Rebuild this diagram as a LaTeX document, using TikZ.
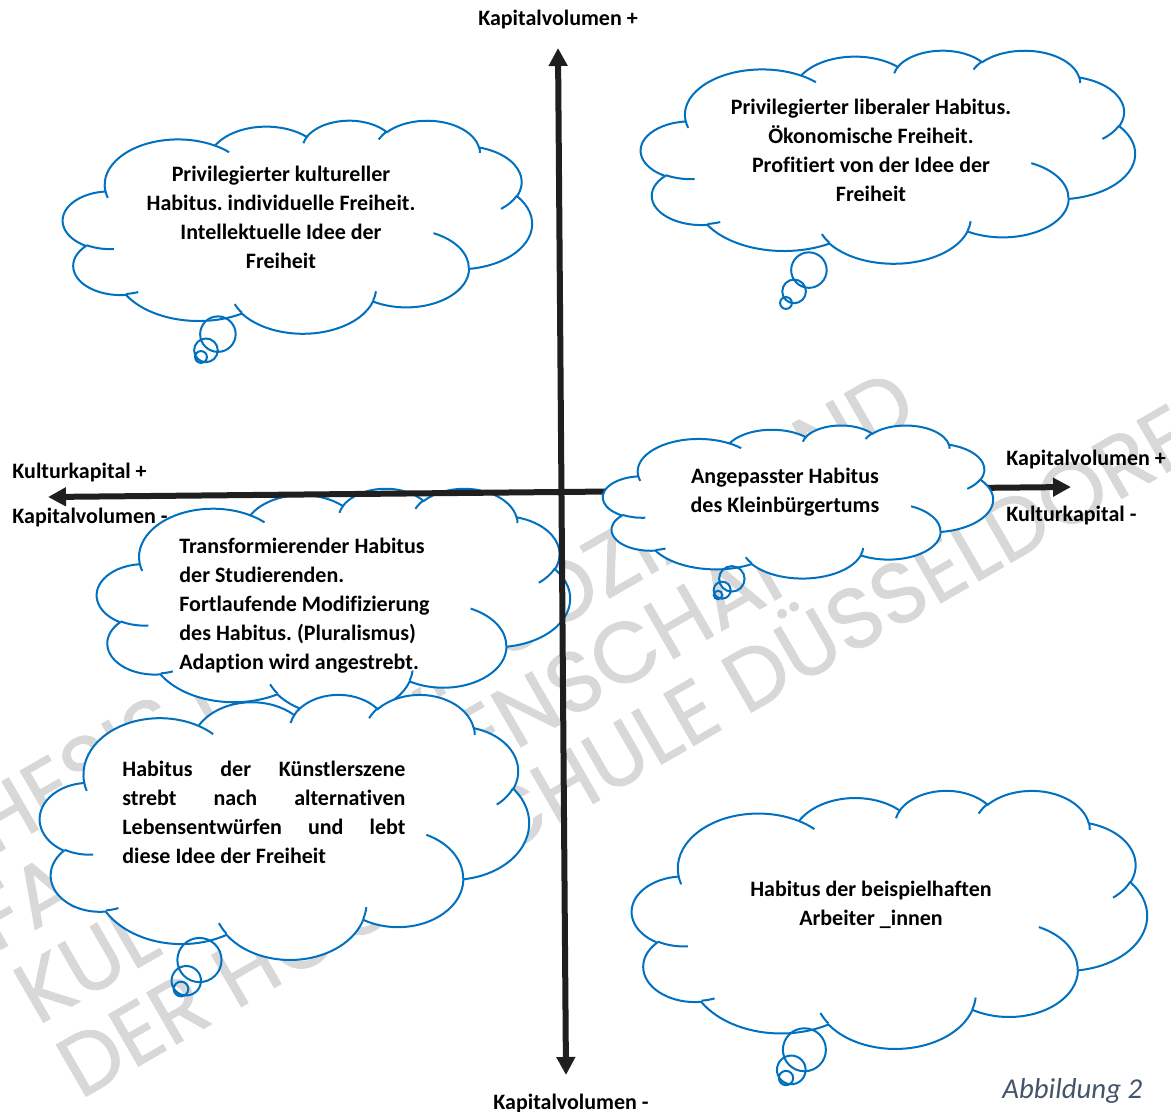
\documentclass[tikz,border=0pt]{standalone}
\usepackage{fontspec}
\setmainfont{Carlito}[Ligatures=NoCommon]
\newfontfamily\markfont{Poppins}[FakeBold=1]
\usetikzlibrary{arrows.meta}
\definecolor{cloudblue}{HTML}{0070C0}
\definecolor{axisblack}{HTML}{1F1F1F}
\definecolor{captionblue}{HTML}{44546A}
\definecolor{markgray}{HTML}{D8D8D8}
\frenchspacing

\newcommand\setpuff[5]{%
  \pgfmathsetmacro\puffst{atan2(#2*sin(#4),#3*cos(#4))}%
  \pgfmathsetmacro\puffen{atan2(#2*sin(#4+#5),#3*cos(#4+#5))}%
  \pgfmathsetmacro\puffdt{mod(\puffen-\puffst+720,360)}%
  \tikzset{#1/.style/.expanded={start angle=\puffst, delta angle=\puffdt, x radius=#2, y radius=#3}}}
\setpuff{puff1}{6.753}{9.190}{-190.4875}{123.7805}
\setpuff{puff2}{5.333}{7.267}{-144.1024}{89.9452}
\setpuff{puff3}{4.365}{5.945}{-145.8079}{99.7230}
\setpuff{puff4}{4.857}{6.595}{-130.9861}{117.2417}
\setpuff{puff5}{5.333}{7.273}{-78.7089}{109.0269}
\setpuff{puff6}{6.775}{9.220}{-46.2673}{130.2690}
\setpuff{puff7}{5.785}{7.867}{0.6250}{114.0333}
\setpuff{puff8}{6.752}{9.215}{22.4516}{115.1726}
\setpuff{puff9}{7.720}{10.543}{66.2426}{75.7110}
\setpuff{puff10}{4.360}{5.918}{-274.9421}{146.7356}
\setpuff{puff11}{4.345}{5.945}{-246.8285}{152.5189}
\setpuff{stub1}{4.345}{5.945}{86.7420}{26.4295}
\setpuff{stub2}{4.360}{5.918}{73.6105}{11.4475}
\setpuff{stub3}{6.752}{9.215}{137.6242}{14.0811}
\setpuff{stub4}{6.752}{9.215}{6.4533}{15.9984}
\setpuff{stub5}{5.785}{7.867}{-70.2924}{70.9174}
\setpuff{stub6}{5.333}{7.273}{30.3180}{27.7515}
\setpuff{stub7}{4.857}{6.595}{-13.7443}{14.8589}
\setpuff{stub8}{4.857}{6.595}{-149.1815}{18.1954}
\setpuff{stub9}{4.365}{5.945}{-163.4943}{17.6864}
\setpuff{stub10}{6.753}{9.190}{-66.7070}{12.3194}
\setpuff{stub11}{6.753}{9.190}{157.6544}{11.8582}

\tikzset{
  cloudline/.style={draw=cloudblue, line width=1pt, fill=white},
  bubble/.style={draw=cloudblue, line width=1pt},
  cloudtext/.style={font=\bfseries\fontsize{11}{14.5}\selectfont, inner sep=0pt},
  axislabel/.style={font=\bfseries\fontsize{11}{13}\selectfont, inner sep=0pt},
  axis/.style={draw=axisblack, line width=3pt, >={Triangle[width=9pt,length=9pt]}, <->},
  watermark/.style={font=\markfont\fontsize{42.8}{42.8}\selectfont, text=markgray, rotate=30, anchor=base west, inner sep=0pt}
}

\newcommand\habcloud[6]{%
  \pgfmathsetmacro\clx{#1+#3/2}%
  \pgfmathsetmacro\cly{#2+#4/2}%
  \pgfmathsetmacro\cla{atan2(#6-\cly,#5-\clx)}%
  \pgfmathsetmacro\clp{atan2(#3/2*sin(\cla),#4/2*cos(\cla))}%
  \pgfmathsetmacro\clu{\clx+#3/2*cos(\clp)-#5}%
  \pgfmathsetmacro\clv{\cly+#4/2*sin(\clp)-#6}%
  \pgfmathsetmacro\cld{veclen(\clu,\clv)}%
  \pgfmathsetmacro\cls{min(#3,#4)}%
  \pgfmathsetmacro\clg{(\cld-\cls*0.30556)/3}%
  \pgfmathsetmacro\clm{(\clg+\cls/12)/\cld}%
  \pgfmathsetmacro\cll{(\cls*0.22222+2*\clg)/\cld}%
  \begin{scope}[shift={(#1,#2)}, xscale=#3/43.2, yscale=#4/43.2]
    \draw[cloudline] (3.9,14.37) arc[puff1] arc[puff2] arc[puff3] arc[puff4]
      arc[puff5] arc[puff6] arc[puff7] arc[puff8] arc[puff9] arc[puff10] arc[puff11] -- cycle;
  \end{scope}
  \draw[bubble] (#5,#6) circle[radius=\cls/36]
    ({#5+\clm*\clu},{#6+\clm*\clv}) circle[radius=\cls/18]
    ({#5+\cll*\clu},{#6+\cll*\clv}) circle[radius=\cls/12];
  \begin{scope}[shift={(#1,#2)}, xscale=#3/43.2, yscale=#4/43.2]
    \draw[bubble] (4.693,26.177) arc[stub1] (6.928,34.899) arc[stub2]
      (16.478,39.090) arc[stub3] (28.827,34.751) arc[stub4]
      (34.129,22.954) arc[stub5] (41.798,15.354) arc[stub6]
      (38.324,5.426) arc[stub7] (29.078,3.952) arc[stub8]
      (22.141,4.720) arc[stub9] (14.000,5.192) arc[stub10]
      (4.127,15.789) arc[stub11];
  \end{scope}}

\begin{document}
\begin{tikzpicture}[x=0.5pt, y=-0.5pt]
\fill[white] (0,0) rectangle (1171,1112);
\useasboundingbox (0,0) rectangle (1171,1112);

\node[watermark] (mark1) at (-47.5,879) {THESIS DES};
\node[watermark] (mark2) at (-5,953) {FACHBEREICH SOZIAL UND};
\node[watermark] (mark3) at (37.5,1026) {KULTURWISSENSCHAFTEN};
\node[watermark] (mark4) at (80,1100) {DER HOCHSCHULE DÜSSELDORF};

\coordinate (vtop) at (558,48);
\coordinate (vbot) at (566,1075);
\coordinate (hleft) at (48,497);
\coordinate (hright) at (1071,487);

\habcloud{63}{120}{469}{213}{201}{357}
\habcloud{641}{50}{494}{213}{786}{303}
\habcloud{97}{488}{473}{227}{210}{760}
\habcloud{40}{694}{489}{265}{181}{989}

\draw[axis] (vbot) -- (vtop);
\draw[axis] (hleft) -- (hright);

\habcloud{603}{425}{390}{153}{718}{595}
\habcloud{632}{790}{515}{258}{786}{1078}

\node[cloudtext, align=center] (kultur) at (281,217)
  {Privilegierter kultureller\\Habitus. individuelle Freiheit.\\Intellektuelle Idee der\\Freiheit};
\node[cloudtext, align=center] (liberal) at (871,150)
  {Privilegierter liberaler Habitus.\\Ökonomische Freiheit.\\Profitiert von der Idee der\\Freiheit};
\node[cloudtext, align=center] (klein) at (785,492)
  {Angepasster Habitus\\des Kleinbürgertums};
\node[cloudtext, align=left, anchor=west] (studi) at (179,606)
  {Transformierender Habitus\\der Studierenden.\\Fortlaufende Modifizierung\\des Habitus. (Pluralismus)\\Adaption wird angestrebt.};
\node[cloudtext, align=justify, text width=141.5pt, anchor=west] (kunst) at (122,812)
  {Habitus\hfill der\hfill Künstlerszene\\strebt\hfill nach\hfill alternativen\\Lebensentwürfen\hfill und\hfill lebt\\diese Idee der Freiheit};
\node[cloudtext, align=center] (arbeit) at (871,905)
  {Habitus der beispielhaften\\Arbeiter \_innen};

\node[axislabel] (toplab) at (558,20) {Kapitalvolumen +};
\node[axislabel] (botlab) at (571,1103) {Kapitalvolumen -};
\node[axislabel, anchor=west] (leftlab1) at (12,473) {Kulturkapital +};
\node[axislabel, anchor=west] (leftlab2) at (12,518) {Kapitalvolumen -};
\node[axislabel, anchor=west] (rightlab1) at (1006,460) {Kapitalvolumen +};
\node[axislabel, anchor=west] (rightlab2) at (1006,516) {Kulturkapital -};
\node[font=\itshape\fontsize{14.4}{16}\selectfont, text=captionblue, anchor=west, inner sep=0pt] (caption) at (1002,1091) {Abbildung 2};
\end{tikzpicture}
\end{document}
